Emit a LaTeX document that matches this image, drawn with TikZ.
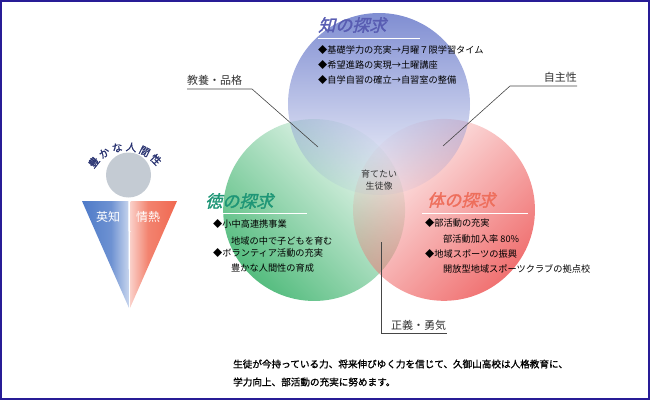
\documentclass[tikz,border=0pt]{standalone}
\usepackage{fontspec}
\usetikzlibrary{fadings}
\newfontfamily\jp{Noto Sans CJK JP}
\newfontfamily\jpttl[FakeSlant=0.25,FakeBold=1.6]{Noto Sans CJK JP}
\newfontfamily\jpbf[FakeBold=1.2]{Noto Sans CJK JP}

\definecolor{framec}{RGB}{40,28,150}
\definecolor{bluec}{RGB}{128,142,210}
\definecolor{greenc}{RGB}{84,188,126}
\definecolor{redc}{RGB}{240,112,112}
\definecolor{chic}{RGB}{88,92,178}
\definecolor{tokuc}{RGB}{30,150,118}
\definecolor{taic}{RGB}{238,110,92}
\definecolor{grayc}{RGB}{196,203,211}
\definecolor{navyc}{RGB}{40,50,112}
\definecolor{eic}{RGB}{78,122,200}
\definecolor{jouc}{RGB}{240,104,80}
\definecolor{leadc}{RGB}{70,70,70}

\tikzfading[name=fade top, top color=transparent!0, bottom color=transparent!95]

\begin{document}
\begin{tikzpicture}[x=1pt,y=1pt]
    \tikzstyle{lbl}=[inner sep=0pt, anchor=west, font=\jp\fontsize{9.2}{11}\selectfont]
    \tikzstyle{ttl}=[inner sep=0pt, anchor=west, font=\jpttl\fontsize{17}{20}\selectfont]
    \tikzstyle{tag}=[inner sep=0pt, font=\jp\fontsize{11}{13}\selectfont, text=black!80]
    \tikzstyle{lead}=[draw=leadc, line width=0.6pt]
    \tikzstyle{uline}=[draw=white, line width=1pt]

    \useasboundingbox (0,0) rectangle (650,400);
    \draw[framec, line width=2pt] (1,1) rectangle (649,399);

    % three circles
    \fill[greenc, path fading=fade top, fading angle=135] (314,190) circle (91);
    \fill[redc, path fading=fade top, fading angle=-135] (444,190) circle (91);
    \fill[bluec, path fading=fade top] (379,296) circle (91);

    % titles
    \node[ttl, text=chic] (chi) at (318,375) {知の探求};
    \node[ttl, text=tokuc] (toku) at (205,199) {徳の探求};
    \node[ttl, text=taic] (tai) at (427,200) {体の探求};
    \draw[uline] (318,361) -- (420,361);
    \draw[uline] (205,187) -- (307,187);
    \draw[uline] (422,187) -- (528,187);

    \foreach \y/\t [count=\i] in {350/{◆基礎学力の充実→月曜７限学習タイム},
                                  335/{◆希望進路の実現→土曜講座},
                                  320/{◆自学自習の確立→自習室の整備}} {
        \node[lbl] (chi\i) at (318,\y) {\t};
    }
    \foreach \x/\y/\t [count=\i] in {213/176/{◆小中高連携事業}, 231/159/{地域の中で子どもを育む},
                                     213/147/{◆ボランティア活動の充実}, 231/132/{豊かな人間性の育成}} {
        \node[lbl] (toku\i) at (\x,\y) {\t};
    }
    \foreach \x/\y/\t [count=\i] in {425/177/{◆部活動の充実}, 443/161/{部活動加入率 80\%},
                                     425/146/{◆地域スポーツの振興}, 443/131/{開放型地域スポーツクラブの拠点校}} {
        \node[lbl] (tai\i) at (\x,\y) {\t};
    }

    % centre
    \node[tag, font=\jp\fontsize{9}{11}\selectfont, align=center] (core) at (379,220) {育てたい\\[1pt]生徒像};

    % leaders
    \node[tag, anchor=south west] (kyoyo) at (187,314) {教養・品格};
    \coordinate (kyoyo-a) at (187,311); \coordinate (kyoyo-b) at (252,311); \coordinate (kyoyo-c) at (318,253);
    \draw[lead] (kyoyo-a) -- (kyoyo-b) -- (kyoyo-c);

    \node[tag, anchor=south east] (jishu) at (577,317) {自主性};
    \coordinate (jishu-a) at (577,314); \coordinate (jishu-b) at (510,314); \coordinate (jishu-c) at (443,254);
    \draw[lead] (jishu-a) -- (jishu-b) -- (jishu-c);

    \node[tag, anchor=south west] (seigi) at (391,69) {正義・勇気};
    \coordinate (seigi-a) at (381,158); \coordinate (seigi-b) at (381,67); \coordinate (seigi-c) at (447,67);
    \draw[lead] (seigi-a) -- (seigi-b) -- (seigi-c);

    % left figure
    \fill[grayc] (128.5,225) circle (22.5);
    \foreach \c [count=\i] in {豊,か,な,人,間,性} {
        \pgfmathsetmacro\ang{161-19.6*\i}
        \node[inner sep=0pt, text=navyc, font=\jpbf\fontsize{10.5}{12}\selectfont,
              text height=0.8em, text depth=0.05em, rotate=\ang-90]
            (arc\i) at ({126+41*cos(\ang)},{212+41*sin(\ang)}) {\c};
    }
    \begin{scope}
        \clip (82,199) -- (128.3,199) -- (129,92) -- cycle;
        \shade[left color=eic, right color=white, middle color=eic!82!white] (82,92) rectangle (140,199);
    \end{scope}
    \begin{scope}
        \clip (130.7,199) -- (177,199) -- (130,92) -- cycle;
        \shade[left color=white, right color=jouc, middle color=jouc!82!white] (119,92) rectangle (177,199);
    \end{scope}
    \node[tag, text=white, font=\jp\fontsize{12}{14}\selectfont] (eichi) at (108,183) {英知};
    \node[tag, text=white, font=\jp\fontsize{12}{14}\selectfont] (jonetsu) at (148,183) {情熱};

    % message
    \node[lbl, font=\jpbf\fontsize{9.6}{11}\selectfont] (msg1) at (233,36) {生徒が今持っている力、将来伸びゆく力を信じて、久御山高校は人格教育に、};
    \node[lbl, font=\jpbf\fontsize{9.6}{11}\selectfont] (msg2) at (233,18) {学力向上、部活動の充実に努めます。};
\end{tikzpicture}
\end{document}
